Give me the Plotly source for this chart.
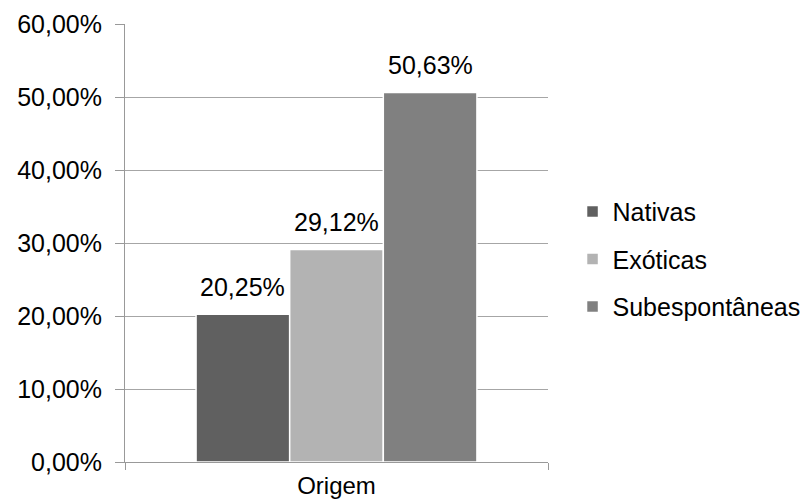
import plotly.graph_objects as go

category = ["Origem"]
series_names = ["Nativas", "Exóticas", "Subespontâneas"]
series_values = [20.25, 29.12, 50.63]
series_colors = ["#606060", "#b3b3b3", "#808080"]
y_tick_values = [0, 10, 20, 30, 40, 50, 60]
y_tick_labels = [f"{v:.2f}".replace(".", ",") + "%" for v in y_tick_values]

FONT = "Liberation Sans, Arial, sans-serif"

fig = go.Figure()
for i, (name, val, col) in enumerate(zip(series_names, series_values, series_colors)):
    fig.add_trace(go.Bar(
        x=category, y=[val], name=name,
        marker=dict(color=col, line=dict(color="white", width=1.5)),
        legendgroup=name,
    ))

# data labels above bars
bar_px = 93.7
for i, val in enumerate(series_values):
    fig.add_annotation(
        x=category[0], y=val, xref="x", yref="y",
        text=f"{val:.2f}".replace(".", ",") + "%",
        showarrow=False, yanchor="bottom", xanchor="center",
        xshift=(i - 1) * bar_px, yshift=11,
        font=dict(family=FONT, size=25, color="#000000"),
    )

fig.update_layout(
    width=811, height=504,
    margin=dict(l=125, r=263, t=24, b=42, autoexpand=False),
    paper_bgcolor="white", plot_bgcolor="white",
    barmode="group", bargap=0.336, bargroupgap=0,
    separators=",.",
    font=dict(family=FONT, size=25, color="#000000"),
    legend=dict(
        x=1.058, xanchor="left", y=0.463, yanchor="middle",
        font=dict(family=FONT, size=25, color="#000000"),
        traceorder="grouped", tracegroupgap=12,
        itemwidth=30,
    ),
    showlegend=True,
)
fig.update_xaxes(
    type="category", range=[-0.5, 0.5], automargin=False,
    tickson="boundaries", ticks="outside", ticklen=7, tickcolor="#999999",
    showline=True, linecolor="#999999", linewidth=1,
    showgrid=False, ticklabelstandoff=2,
    tickfont=dict(family=FONT, size=24, color="#000000"),
)
fig.update_yaxes(
    range=[0, 60], tickmode="array", tickvals=y_tick_values, ticktext=y_tick_labels,
    automargin=False,
    ticks="outside", ticklen=9, tickcolor="#999999",
    showline=True, linecolor="#999999", linewidth=1,
    showgrid=True, gridcolor="#a6a6a6", gridwidth=1,
    zeroline=False, ticklabelstandoff=8,
    tickfont=dict(family=FONT, size=25, color="#000000"),
)

fig.write_html("out.html")
